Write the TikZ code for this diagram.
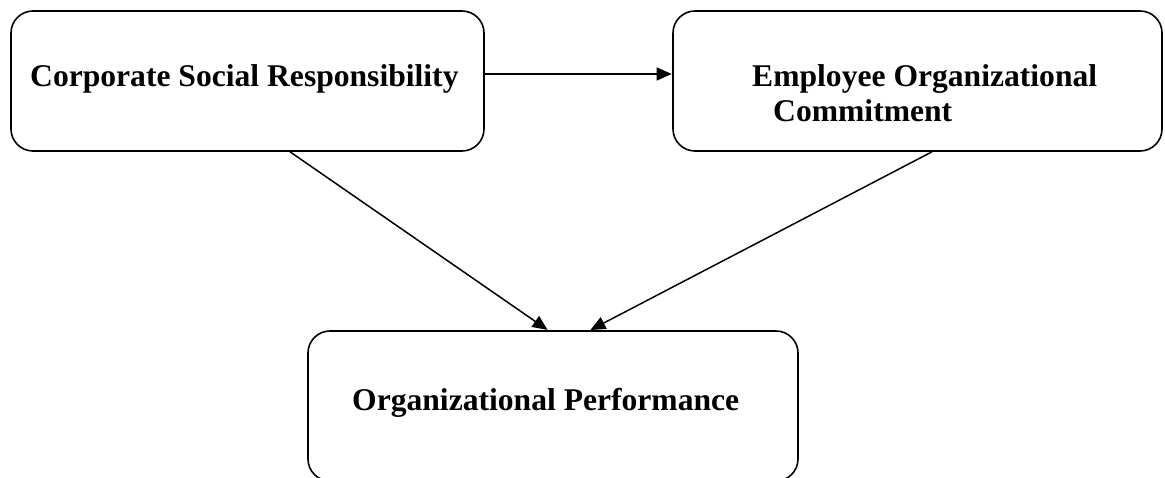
\documentclass[tikz,border=0pt]{standalone}
\usepackage{fontspec}
\setmainfont{Liberation Serif}
\usetikzlibrary{arrows.meta}
\begin{document}
\begin{tikzpicture}[x=1pt,y=-1pt,
  box/.style={draw=black, line width=1.6pt, rounded corners=22pt, inner sep=0pt},
  lbl/.style={font=\fontsize{31.6}{35}\selectfont\bfseries, inner sep=0pt, anchor=base west},
  conn/.style={line width=1.5pt, -{Triangle[length=15pt,width=13pt]}, shorten >=0.5pt}]
\clip (0,0) rectangle (1165,478);
\useasboundingbox (0,0) rectangle (1165,478);
\node[box, minimum width=473pt, minimum height=140pt] (A) at (247.5,81) {};
\node[box, minimum width=489pt, minimum height=140pt] (B) at (917.5,81) {};
\node[box, minimum width=490pt, minimum height=150pt] (C) at (553,406) {};
\node[lbl] (tA) at (30,87) {Corporate Social Responsibility};
\node[lbl] (tB1) at (752,87) {Employee Organizational};
\node[lbl] (tB2) at (773,122) {Commitment};
\node[lbl] (tC) at (352,410) {Organizational Performance};
\draw[conn] ([yshift=7pt]A.east) -- ([yshift=7pt]B.west);
\draw[conn] ([xshift=42.5pt]A.south) -- ([xshift=-5pt]C.north);
\draw[conn] ([xshift=14.5pt]B.south) -- ([xshift=37pt]C.north);
\end{tikzpicture}
\end{document}
